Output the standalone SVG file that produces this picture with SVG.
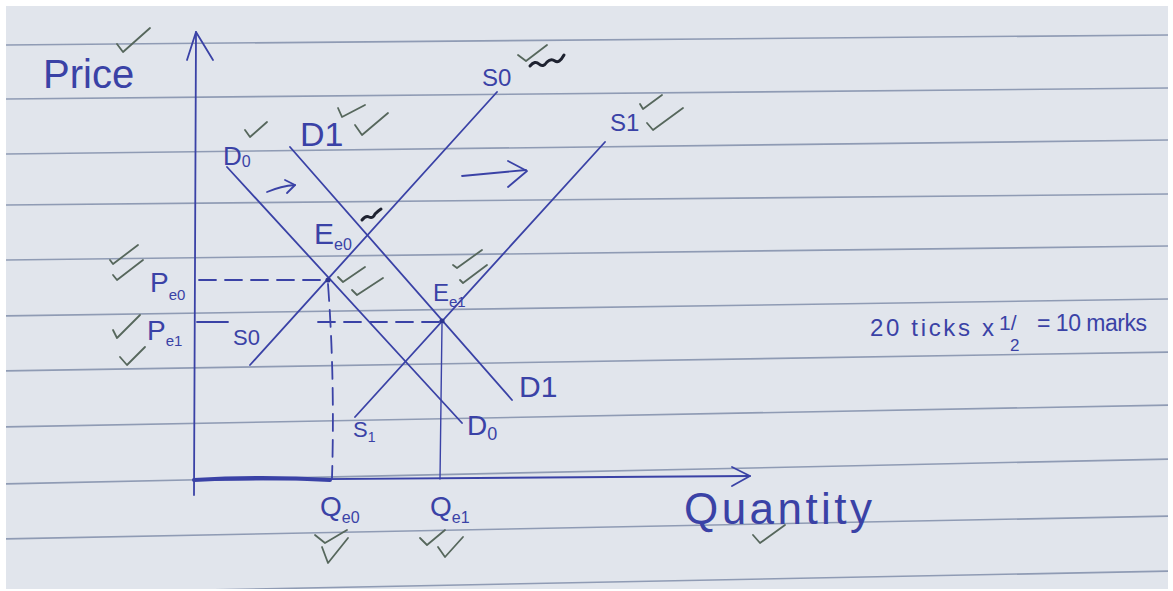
<svg xmlns="http://www.w3.org/2000/svg" width="1173" height="591" viewBox="0 0 1173 591">
<defs>
<style>
.rule{stroke:#8f9bb4;stroke-width:1.6;fill:none}
.ink{stroke:#3a42a6;stroke-width:1.8;fill:none;stroke-linecap:round;stroke-linejoin:round}
.dash{stroke-dasharray:17 9}
.chk{stroke:#56675c;stroke-width:1.8;fill:none;stroke-linecap:round;stroke-linejoin:round}
.blk{stroke:#1e2230;stroke-width:3;fill:none;stroke-linecap:round;stroke-linejoin:round}
text{font-family:"Liberation Sans",Arial,sans-serif;fill:#3a42a6}
</style>
<clipPath id="pc"><rect x="6" y="6" width="1162" height="583"/></clipPath>
</defs>
<rect width="1173" height="591" fill="#ffffff"/>
<g id="paper" clip-path="url(#pc)">
<rect x="6" y="6" width="1162" height="583" fill="#e1e5ec"/>
<g class="rule">
<line x1="0" y1="45" x2="1173" y2="35"/>
<line x1="0" y1="99" x2="1173" y2="88"/>
<line x1="0" y1="154" x2="1173" y2="140"/>
<line x1="0" y1="205" x2="1173" y2="194"/>
<line x1="0" y1="260" x2="1173" y2="246"/>
<line x1="0" y1="316" x2="1173" y2="299"/>
<line x1="0" y1="371" x2="1173" y2="352"/>
<line x1="0" y1="427" x2="1173" y2="405"/>
<line x1="0" y1="484" x2="1173" y2="459"/>
<line x1="0" y1="539" x2="1173" y2="516"/>
<line x1="0" y1="594" x2="1173" y2="571"/>
</g>
</g>

<g id="axes" class="ink">
<path d="M196,32 L194,495"/>
<path d="M187,60 L196,32 L213,60"/>
<path d="M194,480 L750,476"/>
<path d="M194,480 Q262,476 330,480" stroke-width="4"/>
<path d="M732,467 L750,476 L732,486"/>
</g>

<g id="connectors">
<g id="curve-D0" class="ink"><path d="M227,167 L462,423"/></g>
<g id="curve-D1" class="ink"><path d="M290,147 L512,400"/></g>
<g id="curve-S0" class="ink"><path d="M250,365 L497,92"/></g>
<g id="curve-S1" class="ink"><path d="M355,417 L605,142"/></g>
<g id="guides" class="ink">
<path class="dash" d="M199,280 H326"/>
<path d="M197,322 H228"/>
<path class="dash" d="M318,322 H440"/>
<path class="dash" d="M328,284 Q335,380 332,478"/>
<path d="M442,324 L440,479" stroke-width="1.4"/>
</g>
<g id="shift-arrows" class="ink">
<path d="M267,192 Q281,186 295,185"/>
<path d="M285,180 L295,185 L287,193"/>
<path d="M462,176 L526,170"/>
<path d="M508,161 L527,171 L508,187"/>
</g>
</g>

<g id="point-E0">
<circle cx="328" cy="280" r="2.6" fill="#2e3590"/>
<text x="314" y="244" font-size="30">E<tspan font-size="16" dy="6">e0</tspan></text>
</g>
<g id="point-E1">
<circle cx="442" cy="321" r="2.6" fill="#2e3590"/>
<text x="433" y="301" font-size="24">E<tspan font-size="15" dy="6">e1</tspan></text>
</g>

<g id="labels">
<text x="43" y="88" font-size="40">Price</text>
<text x="223" y="165" font-size="26">D<tspan font-size="16" dy="2">0</tspan></text>
<text x="300" y="146" font-size="34">D1</text>
<text x="482" y="86" font-size="24">S0</text>
<text x="610" y="131" font-size="24">S1</text>
<text x="150" y="292" font-size="28">P<tspan font-size="15" dy="8">e0</tspan></text>
<text x="147" y="340" font-size="28">P<tspan font-size="15" dy="6">e1</tspan></text>
<text x="233" y="345" font-size="22">S0</text>
<text x="519" y="397" font-size="30">D1</text>
<text x="467" y="435" font-size="28">D<tspan font-size="18" dy="5">0</tspan></text>
<text x="353" y="437" font-size="22">S<tspan font-size="14" dy="5">1</tspan></text>
<text x="320" y="516" font-size="28">Q<tspan font-size="16" dy="7">e0</tspan></text>
<text x="430" y="516" font-size="28">Q<tspan font-size="16" dy="7">e1</tspan></text>
<text x="684" y="524" font-size="44" textLength="188" lengthAdjust="spacing">Quantity</text>
</g>

<g id="note">
<text x="870" y="336" font-size="24" textLength="124" lengthAdjust="spacing">20 ticks x</text>
<text x="999" y="330" font-size="21">1/</text>
<text x="1010" y="351" font-size="17">2</text>
<text x="1037" y="331" font-size="23" textLength="110" lengthAdjust="spacing">= 10 marks</text>
</g>

<g id="checks" class="chk">
<path d="M117,44 L123,52 L150,28"/>
<path d="M245,130 L250,137 L267,122"/>
<path d="M338,108 L342,117 L365,105"/>
<path d="M355,125 L362,135 L388,113"/>
<path d="M518,55 L526,61 L547,45"/>
<path d="M640,104 L643,109 L662,95"/>
<path d="M647,123 L653,130 L683,108"/>
<path d="M453,265 L457,268 L482,250"/>
<path d="M460,280 L463,283 L487,265"/>
<path d="M338,277 L343,282 L365,267"/>
<path d="M352,290 L357,295 L383,278"/>
<path d="M110,260 L113,264 L138,245"/>
<path d="M113,275 L117,280 L143,260"/>
<path d="M113,330 L117,338 L140,315"/>
<path d="M120,357 L127,365 L145,347"/>
<path d="M315,535 L325,543 L347,530"/>
<path d="M322,547 L328,563 L348,538"/>
<path d="M420,538 L427,545 L445,530"/>
<path d="M438,547 L445,557 L463,537"/>
<path d="M753,535 L760,543 L785,525"/>
</g>

<g id="scribbles" class="blk">
<path d="M530,66 q5,-6 9,-2 q4,4 8,-2 q4,-4 8,-1 q4,3 9,-6"/>
<path d="M362,220 q4,-5 7,-3 q4,2 6,-3 q3,-3 6,-5"/>
</g>
</svg>
